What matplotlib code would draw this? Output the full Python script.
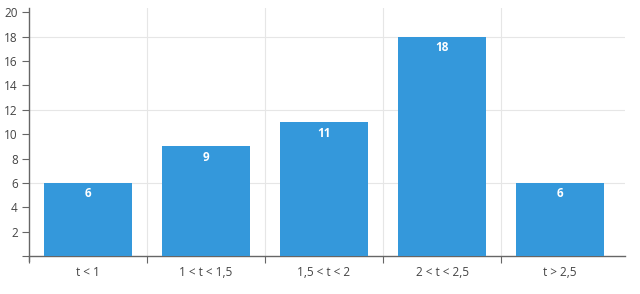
import matplotlib.pyplot as plt
import numpy as np

categories = ["t < 1", "1 < t < 1,5", "1,5 < t < 2", "2 < t < 2,5", "t > 2,5"]
values = [6, 9, 11, 18, 6]
grid_y = [6, 12, 18]

plt.rcParams["font.family"] = ["Open Sans", "DejaVu Sans"]

fig = plt.figure(figsize=(6.4, 2.94), dpi=100)
ax = fig.add_axes([29 / 640, 1 - 256 / 294, (625 - 29) / 640, (256 - 8) / 294])

x = np.arange(len(categories))
ax.bar(x, values, width=0.75, color="#3498db", zorder=3)

for xi, v in zip(x, values):
    ax.annotate(str(v), (xi, v), xytext=(0, -8), textcoords="offset points",
                ha="center", va="center", color="white", fontsize=8.5, fontweight="bold", zorder=4)

ax.set_xlim(-0.5, 4.55)
ax.set_ylim(0, 20.35)

for g in grid_y:
    ax.axhline(g, color="#e6e6e6", lw=0.8, zorder=1)
for b in np.arange(0.5, 4.5, 1):
    ax.axvline(b, color="#e6e6e6", lw=0.8, zorder=1)

ax.set_xticks(x)
ax.set_xticklabels(categories)
ax.set_xticks(np.arange(-0.5, 4.5, 1), minor=True)
ax.tick_params(axis="x", which="major", length=0, pad=7, labelsize=8.5, labelcolor="#444444")
ax.tick_params(axis="x", which="minor", length=5, color="#666666", width=0.8)

yt = list(range(0, 21, 2))
ax.set_yticks(yt)
ax.set_yticklabels([""] + [str(t) for t in yt[1:]])
ax.tick_params(axis="y", length=5, color="#666666", width=0.8, labelsize=8.5, labelcolor="#444444", pad=3)

for s in ["top", "right"]:
    ax.spines[s].set_visible(False)
for s in ["left", "bottom"]:
    ax.spines[s].set_color("#666666")
    ax.spines[s].set_linewidth(1)
ax.spines["left"].set_bounds(-0.4, 20.35)

fig.savefig("out.png", dpi=100)
